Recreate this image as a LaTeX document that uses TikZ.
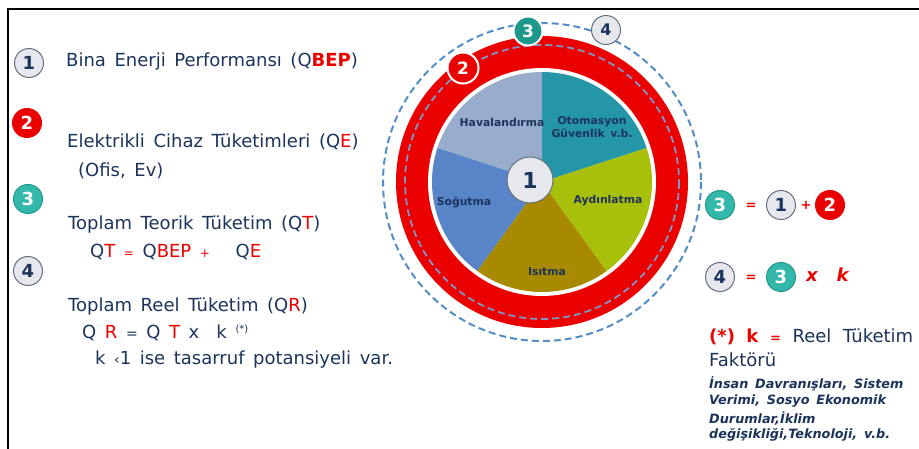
\documentclass[tikz,border=0pt]{standalone}
\usepackage{fontspec}
\setmainfont[WordSpace=1.5]{DejaVu Sans}
\definecolor{navy}{RGB}{28,52,92}
\definecolor{rd}{RGB}{235,0,0}
\definecolor{tealA}{RGB}{52,184,172}
\definecolor{tealB}{RGB}{30,152,138}
\definecolor{greyF}{RGB}{230,232,237}
\definecolor{greyB}{RGB}{100,112,128}
\definecolor{dashblue}{RGB}{84,142,200}
\definecolor{dashgrey}{RGB}{130,150,196}
\definecolor{cHav}{RGB}{152,172,204}
\definecolor{cOto}{RGB}{36,150,168}
\definecolor{cAyd}{RGB}{168,192,10}
\definecolor{cIsi}{RGB}{168,138,0}
\definecolor{cSog}{RGB}{88,132,200}
\tikzset{
  big/.style={font=\fontsize{18}{21}\selectfont, text=navy, anchor=west, inner sep=0pt},
  badge/.style={circle, minimum size=29pt, inner sep=0pt, line width=1pt, font=\fontsize{18}{18}\selectfont\bfseries},
  bgrey/.style={badge, fill=greyF, draw=greyB, text=navy},
  bred/.style={badge, fill=rd, draw=rd, text=white},
  bteal/.style={badge, fill=tealA, draw=tealB, text=white},
  pielab/.style={font=\fontsize{10.8}{13}\selectfont\bfseries, text=navy, align=center, inner sep=0pt},
  op/.style={font=\fontsize{13}{13}\selectfont\bfseries, text=rd, inner sep=0pt},
  small/.style={font=\fontsize{12.8}{17}\selectfont\bfseries\itshape, text=navy, anchor=west, inner sep=0pt}
}
\newcommand{\R}[1]{\textcolor{rd}{#1}}
\begin{document}
\begin{tikzpicture}[x=1pt,y=-1pt]
\useasboundingbox (0,0) rectangle (919,449);
\fill[white] (0,0) rectangle (919,449);
% frame
\draw[line width=2.5pt, black] (8,449) -- (8,9) -- (919,9);

% ring diagram
\coordinate (P) at (542,182);
\draw[dashblue, line width=2pt, dash pattern=on 7pt off 4pt] (P) circle[radius=159];
\fill[rd] (P) circle[radius=146];
\fill[white] (P) circle[radius=114];
\draw[dashgrey, line width=1.8pt, dash pattern=on 7pt off 4pt] (P) circle[radius=137];
\fill[cOto] (P) -- ++(-18:110) arc[start angle=-18, end angle=-90, radius=110] -- cycle;
\fill[cHav] (P) -- ++(-90:110) arc[start angle=-90, end angle=-162, radius=110] -- cycle;
\fill[cSog] (P) -- ++(-162:110) arc[start angle=-162, end angle=-234, radius=110] -- cycle;
\fill[cIsi] (P) -- ++(-234:110) arc[start angle=-234, end angle=-306, radius=110] -- cycle;
\fill[cAyd] (P) -- ++(-306:110) arc[start angle=-306, end angle=-378, radius=110] -- cycle;

\node[pielab] (hav) at (502,122) {Havalandırma};
\node[pielab] (oto) at (592,127) {Otomasyon\\Güvenlik v.b.};
\node[pielab] (ayd) at (608,201) {Aydınlatma};
\node[pielab] (sog) at (464,202) {Soğutma};
\node[pielab] (isi) at (547,272) {Isıtma};

\node[circle, minimum size=46pt, inner sep=0pt, fill=greyF, draw=greyB, line width=1pt, text=navy, font=\fontsize{22}{22}\selectfont\bfseries] (c1) at (530,180) {1};

\node[bred, minimum size=31pt, draw=white, line width=2pt, font=\fontsize{17}{17}\selectfont\bfseries] (r2) at (463,68) {2};
\node[badge, minimum size=29pt, fill=tealB, draw=white, line width=2pt, text=white, font=\fontsize{17}{17}\selectfont\bfseries] (r3) at (528,31) {3};
\node[bgrey, minimum size=29pt, font=\fontsize{16}{16}\selectfont\bfseries] (r4) at (606,30) {4};

% left legend
\node[bgrey] (l1) at (29,63) {1};
\node[bred] (l2) at (27,123) {2};
\node[bteal] (l3) at (28,199) {3};
\node[bgrey] (l4) at (28,271) {4};

\node[big] (t1) at (66,62) {Bina Enerji Performansı (Q\R{\textbf{BEP}})};
\node[big] (t2) at (67,142) {Elektrikli Cihaz Tüketimleri (Q\R{E})};
\node[big] (t2b) at (78,171) {(Ofis, Ev)};
\node[big] (t3) at (68,225) {Toplam Teorik Tüketim (Q\R{T})};
\node[big] (t3b) at (90,252) {Q\R{T} {\fontsize{12}{12}\selectfont\R{=}} Q\R{BEP} {\fontsize{12}{12}\selectfont\R{+}} \ \ Q\R{E}};
\node[big] (t4) at (68,307) {Toplam Reel Tüketim (Q\R{R})};
\node[big] (t4b) at (82,333) {Q \R{R} {\fontsize{14}{14}\selectfont=} Q \R{T} x \ k \raisebox{6pt}{\fontsize{10}{10}\selectfont(*)}};
\node[big] (t4c) at (95,360) {k {\fontsize{14}{14}\selectfont‹}1 ise tasarruf potansiyeli var.};

% right equations
\node[bteal] (e3) at (720,205) {3};
\node[op] (eq1) at (751,206) {=};
\node[bgrey] (e1) at (781,205) {1};
\node[op] (pl) at (806,205) {+};
\node[bred] (e2) at (830,205) {2};

\node[bgrey] (e4) at (720,277) {4};
\node[op] (eq2) at (751,278) {=};
\node[bteal] (e3b) at (781,277) {3};
\node[op, anchor=west, font=\fontsize{18}{18}\selectfont\bfseries\itshape] (xk) at (806,275) {x\ \ k};

% right note
\node[big] (n1) at (709,337) {\makebox[204pt][s]{\R{\textbf{(*)}} \R{\textbf{k}} {\fontsize{13}{13}\selectfont\R{\textbf{=}}} Reel Tüketim}};
\node[big] (n2) at (709,360) {Faktörü};
\node[small] (n3) at (709,384) {İnsan Davranışları, Sistem};
\node[small] (n4) at (709,401) {Verimi, Sosyo Ekonomik};
\node[small] (n5) at (709,418) {Durumlar,İklim};
\node[small] (n6) at (709,435) {değişikliği,Teknoloji, v.b.};
\end{tikzpicture}
\end{document}
